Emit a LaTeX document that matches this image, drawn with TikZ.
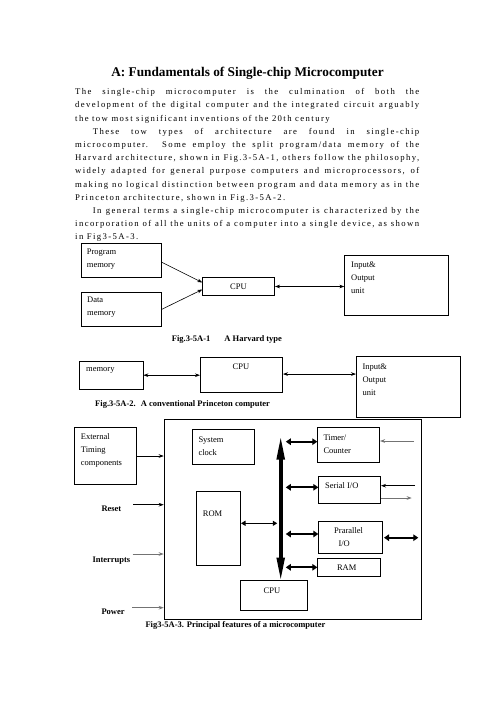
\documentclass[tikz,border=0pt]{standalone}
\usepackage{fontspec}
\setmainfont{Liberation Serif}
\newfontfamily\bodyfont[LetterSpace=16]{Liberation Serif}
\usetikzlibrary{arrows.meta,calc}
\tikzset{
  box/.style={draw, line width=0.7bp, inner sep=0pt, anchor=north west},
  lbl/.style={inner sep=0pt, align=left, anchor=west, font=\fontsize{8.5bp}{13bp}\selectfont},
  clbl/.style={inner sep=0pt, anchor=center, font=\fontsize{8.5bp}{13bp}\selectfont},
  capt/.style={inner sep=0pt, anchor=base west, font=\bfseries\fontsize{8.5bp}{10bp}\selectfont},
  thinarrow/.style={line width=0.6bp, -{Stealth[length=5bp,width=3.6bp]}},
  thinboth/.style={line width=0.6bp, {Stealth[length=5bp,width=3.6bp]}-{Stealth[length=5bp,width=3.6bp]}},
  grayin/.style={line width=0.9bp, -{Stealth[length=5bp,width=3.6bp]}, draw=black!55},
  bigboth/.style={line width=2.3bp, {Triangle[length=5bp,width=6.5bp]}-{Triangle[length=5bp,width=6.5bp]}},
  midboth/.style={line width=1.5bp, {Triangle[length=4.5bp,width=5bp]}-{Triangle[length=4.5bp,width=5bp]}},
  busarrow/.style={line width=3.6bp, {Triangle[length=24bp,width=7.5bp]}-{Triangle[length=24bp,width=7.5bp]}}
}
\begin{document}
\begin{tikzpicture}[x=1bp,y=-1bp]
\useasboundingbox[fill=white] (0,0) rectangle (496,702);

% Title
\node[inner sep=0pt, anchor=base, font=\bfseries\fontsize{13.3bp}{15bp}\selectfont] (title) at (247.5,76.7) {A: Fundamentals of Single-chip Microcomputer};

% Body text
\node[inner sep=0pt, anchor=north west, text width=344bp, align=justify,
      font=\bodyfont\fontsize{8.7bp}{13.2bp}\selectfont] (body) at (75,88.3) {%
The single-chip microcomputer is the culmination of both the\linebreak
development of the digital computer and the integrated circuit arguably\linebreak
the tow most significant inventions of the 20th century\par
\hspace*{17.7bp}These tow types of architecture are found in single-chip\linebreak
microcomputer. Some employ the split program/data memory of the\linebreak
Harvard architecture, shown in Fig.3-5A-1, others follow the philosophy,\linebreak
widely adapted for general purpose computers and microprocessors, of\linebreak
making no logical distinction between program and data memory as in the\linebreak
Princeton architecture, shown in Fig.3-5A-2.\par
\hspace*{17.7bp}In general terms a single-chip microcomputer is characterized by the\linebreak
incorporation of all the units of a computer into a single device, as shown\linebreak
in Fig3-5A-3.};

% ---------- Fig 1 ----------
\node[box, minimum width=79.7bp, minimum height=34bp] (pm) at (81,242.7) {};
\node[box, minimum width=79.7bp, minimum height=33.7bp] (dm) at (81,292.3) {};
\node[box, minimum width=72bp, minimum height=17.7bp] (cpu1) at (202.3,277.3) {};
\node[box, minimum width=104bp, minimum height=60bp] (io1) at (344.3,255) {};
\node[lbl] (pmL) at (86.7,259.2) {Program\\memory};
\node[lbl] (dmL) at (87,307.5) {Data\\memory};
\node[clbl] (cpu1L) at (238.5,286.7) {CPU};
\node[lbl] (io1L) at (351,278) {Input\&\\Output\\unit};
\draw[thinarrow] ($(pm.east)+(0,2)$) -- ($(cpu1.west)+(0,-4)$);
\draw[thinarrow] (dm.east) -- ($(cpu1.west)+(0,3)$);
\draw[thinboth] (cpu1.east) -- (cpu1.east -| io1.west);
\node[capt] (cap1) at (171.7,341) {Fig.3-5A-1\hspace{14bp}A Harvard type};

% ---------- Fig 2 ----------
\node[box, minimum width=63.4bp, minimum height=28.3bp] (mem) at (79.3,360.7) {};
\node[box, minimum width=82.3bp, minimum height=34.4bp] (cpu2) at (200,357.3) {};
\node[box, minimum width=104bp, minimum height=61bp] (io2) at (356,356.3) {};
\node[lbl] (memL) at (86,370.7) {memory};
\node[clbl] (cpu2L) at (241,367) {CPU};
\node[lbl] (io2L) at (362.3,379.7) {Input\&\\Output\\unit};
\draw[thinboth] (mem.east) -- (mem.east -| cpu2.west);
\draw[thinboth] ($(cpu2.east)+(0,-0.8)$) -- ($(cpu2.east -| io2.west)+(0,-0.8)$);
\node[capt] (cap2) at (95,406.5) {Fig.3-5A-2.\hspace{5bp}A conventional Princeton computer};

% ---------- Fig 3 ----------
\node[box, minimum width=257bp, minimum height=200bp] (big) at (163.7,419.3) {};
\node[box, minimum width=62bp, minimum height=56.7bp] (ext) at (74.3,427.3) {};
\node[box, minimum width=62bp, minimum height=34.7bp] (clk) at (192.3,429.3) {};
\node[box, minimum width=44bp, minimum height=74bp] (rom) at (196.3,491.3) {};
\node[box, minimum width=67bp, minimum height=30bp] (cpu3) at (240.3,580.3) {};
\node[box, minimum width=62bp, minimum height=35bp] (tmr) at (317.3,427.3) {};
\node[box, minimum width=62bp, minimum height=27bp] (ser) at (318.3,476.3) {};
\node[box, minimum width=64bp, minimum height=32bp] (par) at (318.3,521.3) {};
\node[box, minimum width=63bp, minimum height=18bp] (ram) at (317.3,558.3) {};

\node[lbl] (extL) at (80.7,450.6) {External\\Timing\\components};
\node[lbl] (clkL) at (198.3,445.8) {System\\clock};
\node[lbl] (romL) at (202.7,514) {ROM};
\node[clbl] (cpu3L) at (272,590.3) {CPU};
\node[lbl] (tmrL) at (323.3,443.8) {Timer/\\Counter};
\node[lbl] (serL) at (325,486) {Serial I/O};
\node[lbl] (parL) at (334,536.6) {Prarallel\\\hspace*{4.3bp}I/O};
\node[clbl] (ramL) at (346.7,568) {RAM};

\node[lbl, font=\bfseries\fontsize{8.5bp}{13bp}\selectfont] (rstL) at (101.3,508.3) {Reset};
\node[lbl, font=\bfseries\fontsize{8.5bp}{13bp}\selectfont] (intL) at (92.3,560.3) {Interrupts};
\node[lbl, font=\bfseries\fontsize{8.5bp}{13bp}\selectfont] (pwrL) at (101.3,612) {Power};

% inputs on the left
\draw[thinarrow] (ext.east) -- (ext.east -| big.west);
\coordinate (rstA) at (133.3,504.7);
\coordinate (intA) at (132.7,554);
\coordinate (pwrA) at (132,607.7);
\draw[thinarrow] (rstA) -- (rstA -| big.west);
\draw[grayin] (intA) -- (intA -| big.west);
\draw[grayin] (pwrA) -- (pwrA -| big.west);

% bus
\coordinate (busT) at (280.7,435.5);
\coordinate (busB) at (280.7,581.5);
\draw[busarrow] (busT) -- (busB);

\coordinate (bT) at (285.8,441.7);
\coordinate (bS) at (285.8,487.3);
\coordinate (bP) at (285.8,534);
\coordinate (bR) at (285.8,567.3);
\coordinate (bRom) at (277.3,523.3);
\draw[bigboth] (bT) -- (bT -| tmr.west);
\draw[bigboth] (bS) -- (bS -| ser.west);
\draw[bigboth] (bP) -- (bP -| par.west);
\draw[bigboth] (bR) -- (bR -| ram.west);
\draw[midboth] (bRom -| rom.east) -- (bRom);

% right side I/O
\coordinate (tIn) at (414,441);
\coordinate (sIn) at (415,485.7);
\coordinate (sOut) at (411.7,498);
\coordinate (pExt) at (418.3,537.7);
\draw[grayin] (tIn) -- (tIn -| tmr.east);
\draw[thinarrow] (sIn) -- (sIn -| ser.east);
\draw[grayin] (sOut -| ser.east) -- (sOut);
\draw[bigboth] ($(pExt -| par.east)+(1,0)$) -- (pExt);

\node[capt] (cap3) at (145.3,627.5) {Fig3-5A-3. Principal features of a microcomputer};
\end{tikzpicture}
\end{document}
